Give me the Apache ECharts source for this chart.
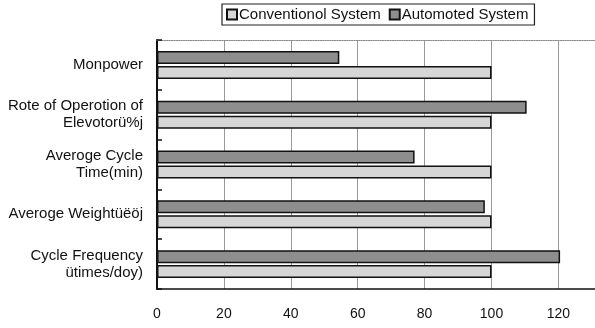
<!DOCTYPE html>
<html>
<head>
<meta charset="utf-8">
<script src="https://cdn.jsdelivr.net/npm/echarts@6/dist/echarts.min.js"></script>
<style>
html,body{margin:0;padding:0;background:#fff;overflow:hidden;width:595px;height:328px;}
#c{width:640px;height:328px;}
</style>
</head>
<body>
<div id="c"></div>
<script>
var categories = ["Monpower", "Rote of Operotion of\nElevotorü%j", "Averoge Cycle\nTime(min)", "Averoge Weightüëöj", "Cycle Frequency\nütimes/doy)"];
var seriesNames = ["Conventionol System", "Automoted System"];
var conventional = [100, 100, 100, 100, 100];
var automated = [54.5, 110.5, 77, 98, 120.5];
var xTicks = [0, 20, 40, 60, 80, 100, 120, 140];

var FONT = "'Liberation Sans', sans-serif";
var chart = echarts.init(document.getElementById('c'), null, {renderer: 'canvas', width: 640, height: 328});
chart.setOption({
  animation: false,
  backgroundColor: '#fff',
  textStyle: {fontFamily: FONT},
  legend: {
    data: seriesNames,
    left: 222,
    top: 4,
    orient: 'horizontal',
    borderColor: '#222',
    borderWidth: 1.2,
    padding: [3, 6, 3, 4],
    itemWidth: 10,
    itemHeight: 10,
    itemGap: 8,
    icon: 'rect',
    textStyle: {fontFamily: FONT, fontSize: 15, color: '#111', padding: [0, 0, 0, -3]}
  },
  grid: {left: 157, width: 475, top: 40, bottom: 39, containLabel: false},
  xAxis: [{
    type: 'value',
    min: xTicks[0],
    max: xTicks[xTicks.length - 1],
    interval: 20,
    position: 'bottom',
    axisLine: {show: true, lineStyle: {color: '#111', width: 1.5}},
    axisTick: {show: false},
    splitLine: {show: true, lineStyle: {color: '#999', width: 1}},
    axisLabel: {fontFamily: FONT, fontSize: 14, color: '#111', margin: 18}
  }, {
    type: 'value',
    min: xTicks[0],
    max: xTicks[xTicks.length - 1],
    interval: 20,
    position: 'top',
    axisLine: {show: true, lineStyle: {color: '#888', width: 1.2, type: 'dotted'}},
    axisTick: {show: false},
    splitLine: {show: false},
    axisLabel: {show: false}
  }],
  yAxis: {
    type: 'category',
    data: categories,
    inverse: true,
    axisLine: {show: true, lineStyle: {color: '#111', width: 2}},
    axisTick: {show: true, inside: true, length: 5, lineStyle: {color: '#111', width: 1.5}},
    axisLabel: {fontFamily: FONT, fontSize: 15, color: '#111', margin: 14, lineHeight: 17, align: 'right'}
  },
  series: [{
    name: seriesNames[1],
    type: 'bar',
    data: automated,
    barWidth: 13,
    barGap: '15%',
    itemStyle: {color: '#8e8e8e', borderColor: '#111', borderWidth: 1.5}
  }, {
    name: seriesNames[0],
    type: 'bar',
    data: conventional,
    barWidth: 13,
    barGap: '15%',
    itemStyle: {color: '#d6d6d6', borderColor: '#111', borderWidth: 1.5}
  }]
});
</script>
</body>
</html>
